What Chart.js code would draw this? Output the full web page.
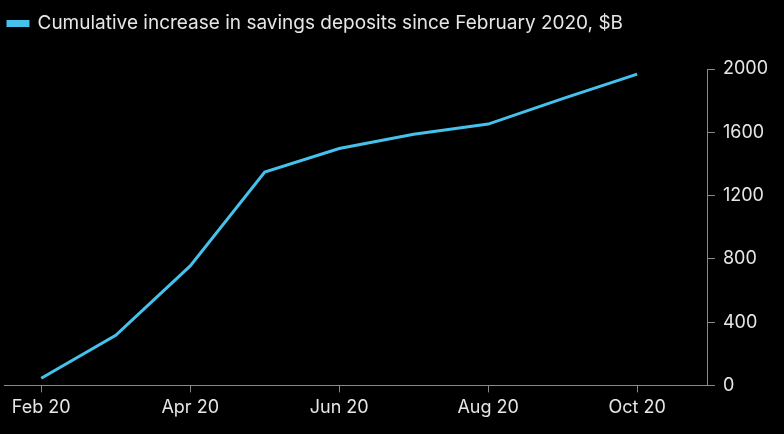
<!DOCTYPE html>
<html>
<head>
<script src="https://cdn.jsdelivr.net/npm/chart.js@4"></script>
<style>
  html, body { margin: 0; background: #000; }
  #wrap { width: 784px; height: 434px; }
</style>
</head>
<body>
<div id="wrap"><canvas id="c"></canvas></div>
<script>
const months = ["Feb 20", "Mar 20", "Apr 20", "May 20", "Jun 20", "Jul 20", "Aug 20", "Sep 20", "Oct 20"]
const deposits = [45, 316, 755, 1348, 1497, 1587, 1652, 1813, 1968]
const yTicks = [0, 400, 800, 1200, 1600, 2000]
const xTickIdx = [0, 2, 4, 6, 8]

const lineColor = "#45c1ec"
const axisColor = "#8a8a8a"
const textColor = "#e6e6e6"

new Chart(document.getElementById("c"), {
  type: "line",
  data: {
    datasets: [{
      label: "Cumulative increase in savings deposits since February 2020, $B",
      data: deposits.map((v, i) => ({ x: i, y: v })),
      borderColor: lineColor,
      backgroundColor: lineColor,
      borderWidth: 3,
      pointRadius: 0,
      tension: 0,
    }],
  },
  options: {
    responsive: true,
    maintainAspectRatio: false,
    animation: false,
    layout: { padding: { left: 4, right: 8, top: 10, bottom: 12 } },
    plugins: {
      legend: {
        position: "top",
        align: "start",
        labels: {
          color: textColor,
          font: { family: "Inter", size: 19 },
          boxWidth: 20,
          boxHeight: 4,
          padding: 4,
        },
      },
      tooltip: { enabled: false },
    },
    scales: {
      x: {
        type: "linear",
        min: -0.5,
        max: 8.95,
        afterBuildTicks: (axis) => { axis.ticks = xTickIdx.map(v => ({ value: v })) },
        ticks: {
          color: textColor,
          font: { family: "Inter", size: 18 },
          callback: (v) => months[v] ?? "",
          maxRotation: 0,
          padding: 4,
        },
        grid: { drawOnChartArea: false, color: axisColor, tickLength: 7 },
        border: { color: axisColor, width: 1 },
      },
      y: {
        position: "right",
        min: 0,
        max: 2000,
        afterBuildTicks: (axis) => { axis.ticks = yTicks.map(v => ({ value: v })) },
        afterFit: (axis) => { axis.paddingTop = 0 },
        ticks: {
          color: textColor,
          font: { family: "Inter", size: 18 },
          padding: 8,
          callback: (v) => String(v),
        },
        grid: { drawOnChartArea: false, color: axisColor, tickLength: 7 },
        border: { color: axisColor, width: 1 },
      },
    },
  },
  plugins: [{
    id: "legendGap",
    beforeInit(chart) {
      const fit = chart.legend.fit
      chart.legend.fit = function () { fit.bind(chart.legend)(); this.height += 26 }
    },
  }],
})
</script>
</body>
</html>
